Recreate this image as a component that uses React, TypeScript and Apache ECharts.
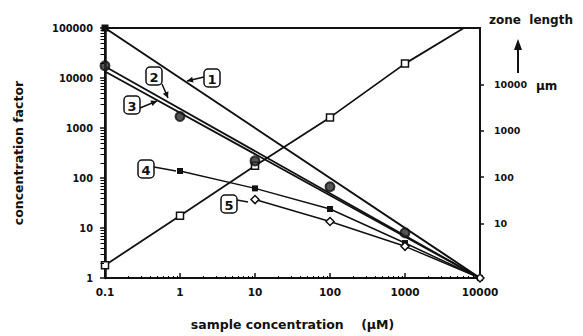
import React, { useEffect, useRef } from "react";
import * as echarts from "echarts";

// ---- data ----
const theoryX = [0.1, 10000];
const theory1 = [100000, 1];
const theory2 = [17000, 1];
const theory3 = [13500, 1];

const measuredX = [0.1, 1, 10, 100, 1000];
const measured23 = [17500, 1700, 220, 67, 8];

const series4X = [1, 10, 100, 1000, 10000];
const series4 = [138, 62, 24, 5, 1];

const series5X = [10, 100, 1000, 10000];
const series5 = [37, 13.5, 4.3, 1];

const zoneX = [0.1, 1, 10, 100, 1000, 6100];
const zoneLength = [1.8, 17.5, 175, 1630, 19400, 100000];

// ---- tick labels ----
const leftTicks = [1, 10, 100, 1000, 10000, 100000];
const rightTicks = [10, 100, 1000, 10000];
const xTicks = [0.1, 1, 10, 100, 1000, 10000];
const minorSteps = [2, 3, 4, 5, 6, 7, 8, 9];

const INK = "#111";
const FONT = "DejaVu Sans, Verdana, sans-serif";
const GRID = { left: 105, right: 103, top: 28, bottom: 56 };

const zip = (xs: number[], ys: number[]) => xs.map((x, i) => [x, ys[i]]);
const minorOf = (decades: number[]) =>
  decades.slice(0, -1).flatMap((d) => minorSteps.map((k) => Number((k * d).toPrecision(6))));

function arrowHead(tipX: number, tipY: number, fromX: number, fromY: number, len = 6, half = 3) {
  const dx = tipX - fromX;
  const dy = tipY - fromY;
  const d = Math.sqrt(dx * dx + dy * dy) || 1;
  const ux = dx / d;
  const uy = dy / d;
  const bx = tipX - ux * len;
  const by = tipY - uy * len;
  return {
    type: "polygon",
    shape: {
      points: [
        [tipX, tipY],
        [bx - uy * half, by + ux * half],
        [bx + uy * half, by - ux * half],
      ],
    },
    style: { fill: INK },
    z: 100,
  };
}

function labelBox(cx: number, cy: number, txt: string) {
  return [
    {
      type: "rect",
      shape: { x: cx - 8, y: cy - 9, width: 16, height: 18, r: 4 },
      style: { fill: "#fff", stroke: INK, lineWidth: 1.5 },
      z: 100,
    },
    {
      type: "text",
      x: cx,
      y: cy + 1,
      style: {
        text: txt,
        font: "bold 13px " + FONT,
        fill: INK,
        align: "center",
        verticalAlign: "middle",
      },
      z: 101,
    },
  ];
}

function leader(x1: number, y1: number, x2: number, y2: number, arrow: boolean) {
  const out: any[] = [
    {
      type: "line",
      shape: { x1, y1, x2, y2 },
      style: { stroke: INK, lineWidth: 1.5 },
      z: 100,
    },
  ];
  if (arrow) out.push(arrowHead(x2, y2, x1, y1));
  return out;
}

const fmt = (v: number) => String(Number(v.toPrecision(6)));

export default function App() {
  const ref = useRef<HTMLDivElement>(null);
  useEffect(() => {
    if (!ref.current) return;
    const chart = echarts.init(ref.current, undefined, { renderer: "svg" });
    const axisLabelBase = {
      color: INK,
      fontWeight: "bold" as const,
      fontFamily: FONT,
    };
    const nameStyle = { color: INK, fontWeight: "bold", fontFamily: FONT, fontSize: 12.5 };
    chart.setOption({
      animation: false,
      backgroundColor: "#fff",
      grid: {
        ...GRID,
        show: true,
        backgroundColor: "transparent",
        borderColor: INK,
        borderWidth: 2,
      },
      xAxis: {
        type: "log",
        logBase: 10,
        min: 0.1,
        max: 10000,
        name: "sample concentration    (\u00b5M)",
        nameLocation: "middle",
        nameGap: 40,
        nameTextStyle: nameStyle,
        axisLine: { lineStyle: { color: INK, width: 2 } },
        axisTick: { inside: true, length: 5, lineStyle: { color: INK, width: 1.5 }, customValues: xTicks },
        splitLine: { show: false },
        axisLabel: { ...axisLabelBase, fontSize: 10.5, margin: 8, formatter: fmt, customValues: xTicks },
      },
      yAxis: [
        {
          type: "log",
          logBase: 10,
          min: 1,
          max: 100000,
          name: "concentration factor",
          nameLocation: "middle",
          nameGap: 80,
          nameRotate: 90,
          nameTextStyle: nameStyle,
          axisLine: { lineStyle: { color: INK, width: 2.5 } },
          axisTick: { inside: false, length: 5, lineStyle: { color: INK, width: 1.5 }, customValues: leftTicks },
          splitLine: { show: false },
          axisLabel: { ...axisLabelBase, fontSize: 9.8, margin: 12, formatter: fmt, customValues: leftTicks },
        },
        {
          type: "log",
          logBase: 10,
          min: 0.66,
          max: 166000,
          position: "right",
          axisLine: { show: true, lineStyle: { color: INK, width: 2 } },
          axisTick: { show: true, inside: false, length: 4, lineStyle: { color: INK, width: 1.5 }, customValues: rightTicks },
          splitLine: { show: false },
          axisLabel: { ...axisLabelBase, fontSize: 9.5, margin: 14, formatter: fmt, customValues: rightTicks },
        },
      ],
      series: [
        {
          name: "1",
          type: "line",
          data: zip(theoryX, theory1).map((d, i) =>
            i === 0 ? { value: d, symbol: "rect", symbolSize: 7 } : { value: d, symbol: "none" }
          ),
          symbol: "rect",
          itemStyle: { color: INK },
          lineStyle: { color: INK, width: 2 },
          z: 3,
        },
        {
          name: "2",
          type: "line",
          data: zip(theoryX, theory2),
          symbol: "none",
          lineStyle: { color: INK, width: 1.8 },
          z: 3,
        },
        {
          name: "3",
          type: "line",
          data: zip(theoryX, theory3),
          symbol: "none",
          lineStyle: { color: INK, width: 1.8 },
          z: 3,
        },
        {
          name: "measured",
          type: "scatter",
          data: zip(measuredX, measured23),
          symbol: "circle",
          symbolSize: 9,
          itemStyle: { color: "#2a2a2a", borderColor: INK, borderWidth: 2 },
          z: 5,
        },
        {
          name: "4",
          type: "line",
          data: zip(series4X, series4),
          symbol: "rect",
          symbolSize: 6,
          itemStyle: { color: INK },
          lineStyle: { color: INK, width: 1.5 },
          z: 4,
        },
        {
          name: "5",
          type: "line",
          data: zip(series5X, series5),
          symbol: "diamond",
          symbolSize: 8,
          itemStyle: { color: "#fff", borderColor: INK, borderWidth: 1.5 },
          lineStyle: { color: INK, width: 1.5 },
          z: 4,
        },
        {
          name: "zone length",
          type: "line",
          data: zip(zoneX, zoneLength).map((d, i, a) =>
            i === a.length - 1 ? { value: d, symbol: "none" } : { value: d }
          ),
          symbol: "rect",
          symbolSize: 7,
          itemStyle: { color: "#fff", borderColor: INK, borderWidth: 1.5 },
          lineStyle: { color: INK, width: 1.8 },
          z: 4,
        },
      ],
    });

    // minor ticks: pixel positions from the chart's axes, with a log fallback
    const W = 583 - GRID.left - GRID.right;
    const H = 336 - GRID.top - GRID.bottom;
    const xPix = (v: number) => {
      const p = chart.convertToPixel({ xAxisIndex: 0 }, v) as any;
      const n = Array.isArray(p) ? p[0] : p;
      if (typeof n === "number" && isFinite(n)) return n;
      return GRID.left + ((Math.log10(v) + 1) / 5) * W;
    };
    const yPix = (v: number) => {
      const p = chart.convertToPixel({ yAxisIndex: 0 }, v) as any;
      const n = Array.isArray(p) ? p[1] : p;
      if (typeof n === "number" && isFinite(n)) return n;
      return GRID.top + H - (Math.log10(v) / 5) * H;
    };
    const minorTicks: any[] = [];
    const bottomY = 336 - GRID.bottom;
    minorOf(xTicks).forEach((v) => {
      const x = Math.round(xPix(v)) + 0.5;
      minorTicks.push({
        type: "line",
        shape: { x1: x, y1: bottomY - 1, x2: x, y2: bottomY - 4 },
        style: { stroke: "#000", lineWidth: 1 },
        z: 50,
      });
    });
    minorOf(leftTicks).forEach((v) => {
      const y = Math.round(yPix(v)) + 0.5;
      minorTicks.push({
        type: "line",
        shape: { x1: GRID.left - 1, y1: y, x2: GRID.left - 4.5, y2: y },
        style: { stroke: "#000", lineWidth: 1 },
        z: 50,
      });
    });

    chart.setOption({
      graphic: [
        ...minorTicks,
        {
          type: "text",
          x: 489,
          y: 20,
          style: {
            text: "zone  length",
            font: "bold 12px " + FONT,
            fill: INK,
            verticalAlign: "middle",
          },
        },
        { type: "line", shape: { x1: 518, y1: 73, x2: 518, y2: 48 }, style: { stroke: INK, lineWidth: 2 }, z: 100 },
        arrowHead(518, 39, 518, 73, 11, 4),
        {
          type: "text",
          x: 536,
          y: 86,
          style: { text: "\u00b5m", font: "bold 12px " + FONT, fill: INK, verticalAlign: "middle" },
        },
        ...labelBox(212, 78, "1"),
        ...leader(204, 77, 187, 81, true),
        ...labelBox(154, 76, "2"),
        ...leader(162, 84, 168, 98, true),
        ...labelBox(132, 105, "3"),
        ...leader(140, 108, 157, 101, true),
        ...labelBox(146, 169, "4"),
        ...leader(154, 167, 176, 171, false),
        ...labelBox(229, 204, "5"),
        ...leader(237, 200, 248, 202, false),
      ],
    });
    return () => chart.dispose();
  }, []);
  return (
    <div
      ref={ref}
      style={{ position: "fixed", left: 0, top: 0, width: 583, height: 336, background: "#fff" }}
    />
  );
}
